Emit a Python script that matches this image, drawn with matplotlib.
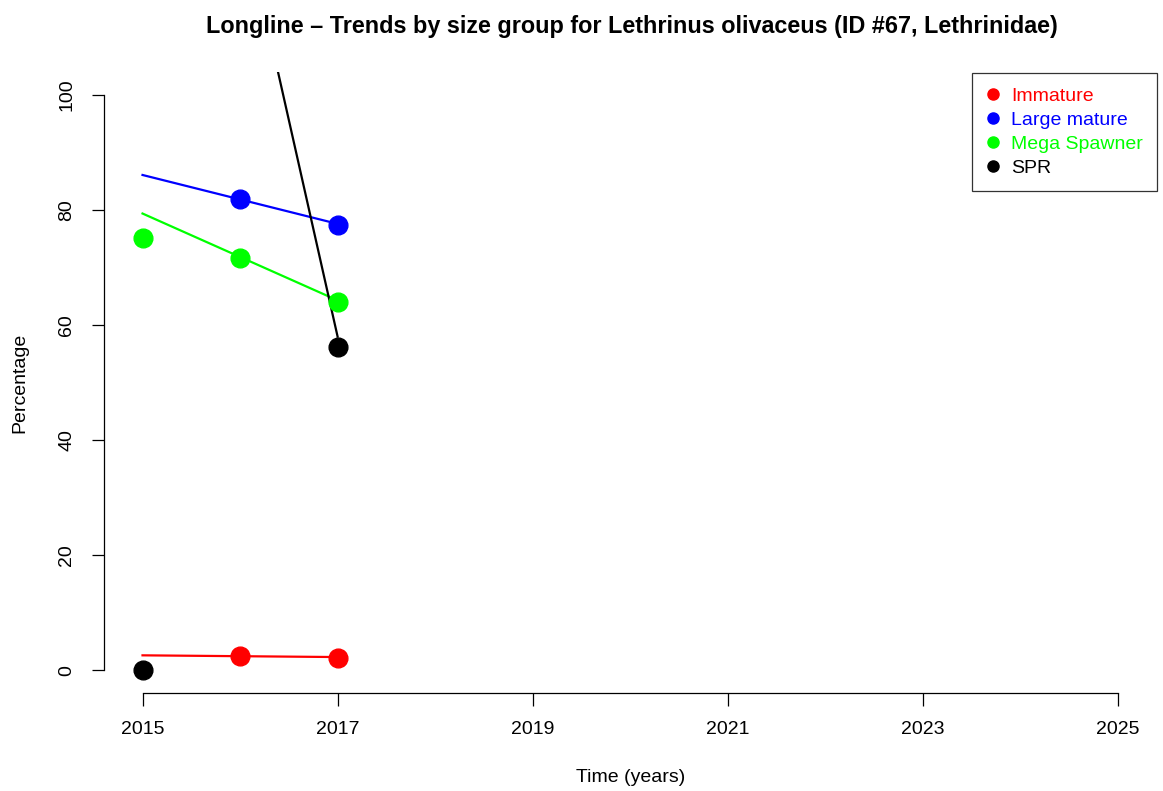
import matplotlib
matplotlib.use("Agg")
import matplotlib.pyplot as plt
from matplotlib.lines import Line2D

plt.rcParams['font.family'] = ['Liberation Sans', 'DejaVu Sans']

# Observed points
imm_years = [2016, 2017]
imm_vals = [2.4, 2.2]
lm_years = [2016, 2017]
lm_vals = [81.9, 77.4]
ms_years = [2015, 2016, 2017]
ms_vals = [75.1, 71.7, 64.1]
spr_years = [2015, 2017]
spr_vals = [0.0, 56.2]

# Trend line endpoints (2015, 2017)
trend_years = [2015, 2017]
imm_trend = [2.6, 2.3]
lm_trend = [86.1, 77.6]
ms_trend = [79.4, 64.3]
spr_trend = [208.6, 58.0]

labels = ["Immature", "Large mature", "Mega Spawner", "SPR"]
colors = ["#FF0000", "#0000FF", "#00FF00", "#000000"]

xticks = [2015, 2017, 2019, 2021, 2023, 2025]
yticks = [0, 20, 40, 60, 80, 100]

W, H = 1163, 791
fig = plt.figure(figsize=(W / 100, H / 100), dpi=100)
left, right, top, bottom = 103.5, 1157, 72, 693.3
ax = fig.add_axes([left / W, 1 - bottom / H, (right - left) / W, (bottom - top) / H])
ax.set_xlim(2014.6, 2025.4)
ax.set_ylim(-4, 104)

series = [
    (imm_years, imm_vals, imm_trend, colors[0]),
    (lm_years, lm_vals, lm_trend, colors[1]),
    (ms_years, ms_vals, ms_trend, colors[2]),
    (spr_years, spr_vals, spr_trend, colors[3]),
]
for yrs, vals, tr, c in series:
    ax.plot(trend_years, tr, color=c, lw=1.6, zorder=2)
    ax.plot(yrs, vals, 'o', color=c, ms=13.5, mec=c, zorder=3)

for s in ['top', 'right']:
    ax.spines[s].set_visible(False)
ax.spines['left'].set_bounds(0, 100)
ax.spines['bottom'].set_bounds(2015, 2025)
ax.spines['left'].set_linewidth(0.9)
ax.spines['bottom'].set_linewidth(0.9)
ax.set_xticks(xticks)
ax.set_yticks(yticks)
ax.set_yticklabels([str(v) for v in yticks], rotation=90, va='center')
ax.tick_params(axis='both', length=9, width=0.9, labelsize=14, pad=11.3)

ax.set_xlabel("Time (years)", fontsize=14)
ax.xaxis.set_label_coords(0.5, (bottom - 777) / (bottom - top))
ax.xaxis.label.set_va('center')
ax.set_ylabel("Percentage", fontsize=14)
ax.yaxis.set_label_coords((20 - left) / (right - left), 0.5)
ax.yaxis.label.set_va('center')

fig.text(632 / W, 1 - 27 / H,
         "Longline \u2013 Trends by size group for Lethrinus olivaceus (ID #67, Lethrinidae)",
         fontsize=16.8, fontweight='bold', ha='center', va='center')

handles = [Line2D([0], [0], marker='o', color='w', markerfacecolor=c, markeredgecolor=c,
                  markersize=8) for c in colors]
leg = fig.legend(handles, labels, loc='upper right',
                 bbox_to_anchor=(1157 / W, 1 - 73 / H), bbox_transform=fig.transFigure,
                 frameon=True, fancybox=False, fontsize=14, handlelength=0.7,
                 handletextpad=0.58, borderpad=0.72, labelspacing=0.34, borderaxespad=0)
leg.get_frame().set_edgecolor('black')
leg.get_frame().set_linewidth(0.9)
for t, c in zip(leg.get_texts(), colors):
    t.set_color(c)

fig.savefig("out.png", dpi=100)
